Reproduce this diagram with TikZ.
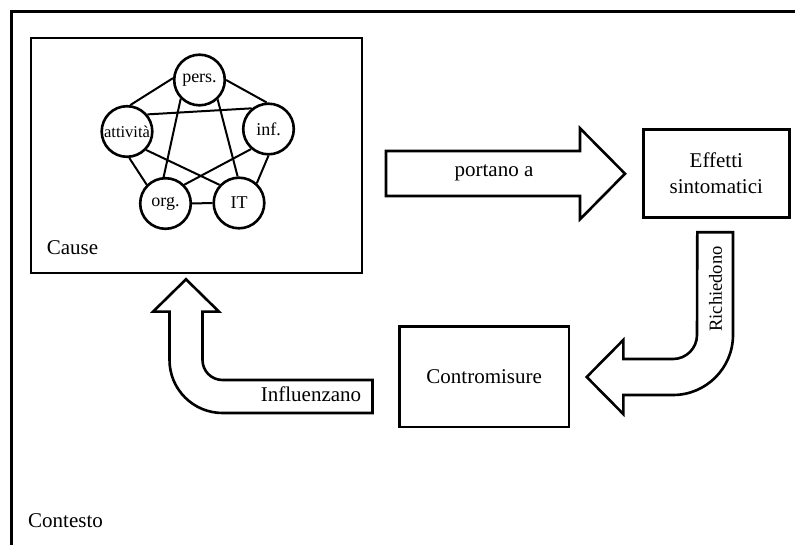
\documentclass[tikz,border=0pt]{standalone}
\usepackage{fontspec}
\setmainfont{Liberation Serif}
\begin{document}
\begin{tikzpicture}[x=1pt,y=-1pt,
  frame/.style={line width=3pt},
  boxline/.style={draw,line width=2.7pt,inner sep=0pt},
  topic/.style={circle,draw,line width=2.6pt,minimum size=50.6pt,inner sep=0pt,
    font=\fontsize{18}{20}\selectfont},
  link/.style={line width=2pt},
  bigarrow/.style={draw,line width=2.6pt,fill=white,line join=miter},
  lbl/.style={font=\fontsize{21}{26}\selectfont,inner sep=0pt}]
\useasboundingbox (0,0) rectangle (795,545);
\fill[white] (0,0) rectangle (795,545);

% context frame (open to the right and bottom)
\coordinate (fbl) at (11.3,548);
\coordinate (ftl) at (11.3,11.7);
\coordinate (ftr) at (798,11.7);
\draw[frame] (fbl) -- (ftl) -- (ftr);
\node[lbl,anchor=base west] (contesto) at (28,527) {Contesto};

% causes box
\node[boxline,minimum width=331pt,minimum height=235pt] (causebox) at (196.5,155.5) {};
\node[lbl,anchor=base west] (causelbl) at (46.7,255) {Cause};

% network of causes
\node[topic] (pers) at (199.5,80) {pers.};
\node[topic,font=\fontsize{16.5}{18}\selectfont] (att) at (127,131.5) {attività};
\node[topic] (inf) at (268.5,129) {inf.};
\node[topic] (org) at (165.5,203.5) {org.};
\node[topic] (it) at (239,203) {IT};
\draw[link] (pers.176) -- (att.83);
\draw[link] (pers.0) -- (inf.94);
\draw[link] (pers.225) -- (org.94);
\draw[link] (pers.313) -- (it.93);
\draw[link] (att.40) -- (inf.129);
\draw[link] (att.275) -- (org.135);
\draw[link] (att.316) -- (it.137);
\draw[link] (inf.229) -- (org.45);
\draw[link] (inf.270) -- (it.48);
\draw[link] (org.0) -- (it.180);

% effects and countermeasures
\node[boxline,lbl,minimum width=146pt,minimum height=88.4pt,align=center]
  (effetti) at (716.3,173.5) {Effetti\\sintomatici};
\node[boxline,lbl,minimum width=169.7pt,minimum height=100.3pt]
  (contromisure) at (484.2,376.9) {Contromisure};

% block arrow: causes -> effects
\draw[bigarrow] (386,151) -- (580,151) -- (580,128.3) -- (625,173.7)
  -- (580,219.3) -- (580,196) -- (386,196) -- cycle;
\node[lbl] (portano) at (494,173) {portano a};

% bent block arrow: effects -> countermeasures
\draw[bigarrow] (697.3,232.3) -- (733,232.3) -- (733,335)
  arc[start angle=0,end angle=90,radius=60] -- (623.3,395) -- (623.3,414)
  -- (586.7,377) -- (623.3,340) -- (623.3,359) -- (673,359)
  arc[start angle=90,end angle=0,radius=24] -- cycle;
\node[font=\fontsize{18.5}{20}\selectfont,inner sep=0pt,rotate=90] (richiedono) at (715.5,289) {Richiedono};

% bent block arrow: countermeasures -> causes
\draw[bigarrow] (372.5,380) -- (222.5,380)
  arc[start angle=90,end angle=180,radius=20] -- (202.5,311.7) -- (219,311.7)
  -- (186,279.3) -- (153,311.7) -- (169.5,311.7) -- (169.5,360)
  arc[start angle=180,end angle=90,radius=53] -- (372.5,413) -- cycle;
\node[lbl,anchor=base east] (influenzano) at (361.4,401.7) {Influenzano};
\end{tikzpicture}
\end{document}
